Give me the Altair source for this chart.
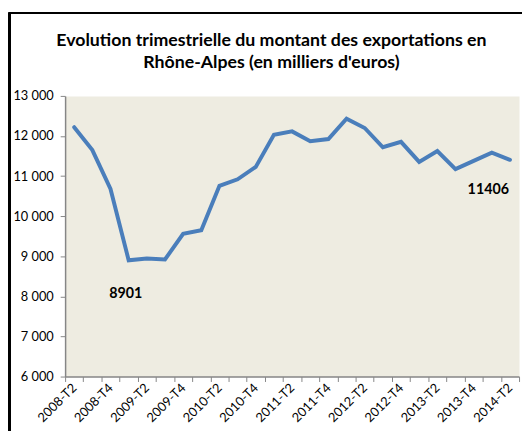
import altair as alt
import pandas as pd

quarters = [
    "2008-T2", "2008-T3", "2008-T4",
    "2009-T1", "2009-T2", "2009-T3", "2009-T4",
    "2010-T1", "2010-T2", "2010-T3", "2010-T4",
    "2011-T1", "2011-T2", "2011-T3", "2011-T4",
    "2012-T1", "2012-T2", "2012-T3", "2012-T4",
    "2013-T1", "2013-T2", "2013-T3", "2013-T4",
    "2014-T1", "2014-T2",
]
values = [12220, 11650, 10680, 8901, 8945, 8920, 9560, 9650, 10757, 10920, 11230,
          12030, 12115, 11870, 11925, 12430, 12200, 11720, 11855, 11355, 11625,
          11175, 11380, 11585, 11406]
y_ticks = [6000, 7000, 8000, 9000, 10000, 11000, 12000, 13000]
annot_quarters = ["2009-T1", "2014-T2"]
annot_values = [8901, 11406]

df = pd.DataFrame({"q": quarters, "v": values})
ann = pd.DataFrame({"q": annot_quarters, "v": annot_values,
                    "t": [str(v) for v in annot_values]})

FONT = "Lato"

x_enc = alt.X("q:N", sort=quarters, bandPosition=0.5,
              scale=alt.Scale(type="band", domain=quarters, paddingInner=0, paddingOuter=0),
              axis=alt.Axis(title=None, tickBand="extent", labelAngle=-45, labelAlign="right",
                            labelBaseline="middle", labelOverlap=False, labelPadding=4,
                            labelExpr="indexof(datum.label, 'T2') >= 0 || indexof(datum.label, 'T4') >= 0 ? datum.label : ''",
                            labelFont=FONT, labelFontSize=13, labelColor="#000000",
                            domainColor="#868686", domainWidth=1.5, tickColor="#868686",
                            tickSize=5, grid=False))
y_scale = alt.Scale(domain=[6000, 13000], nice=False, zero=False)
y_enc = alt.Y("v:Q", scale=y_scale,
              axis=alt.Axis(title=None, values=y_ticks, grid=False,
                            labelExpr="replace(format(datum.value, ','), ',', ' ')",
                            labelFont=FONT, labelFontSize=13, labelColor="#000000",
                            domainColor="#868686", domainWidth=1.5, tickColor="#868686",
                            tickSize=5, labelPadding=7))

line = alt.Chart(df).mark_line(color="#4A7EBB", strokeWidth=4, strokeCap="round").encode(
    x=x_enc, y=y_enc)

ann_x = alt.X("q:N", sort=quarters, bandPosition=0.5)
label_min = alt.Chart(ann).transform_filter(alt.datum.q == annot_quarters[0]).mark_text(
    font=FONT, fontSize=14.5, fontWeight="bold", color="#000000", dy=34, dx=-3).encode(
    x=ann_x, y=alt.Y("v:Q"), text="t:N")
label_last = alt.Chart(ann).transform_filter(alt.datum.q == annot_quarters[1]).mark_text(
    font=FONT, fontSize=14.5, fontWeight="bold", color="#000000", dy=31, dx=-22).encode(
    x=ann_x, y=alt.Y("v:Q"), text="t:N")

frame_left = alt.Chart(df).mark_rule(color="#000000", strokeWidth=1.5).encode(
    x=alt.value(-56.5), y=alt.value(-84.5), y2=alt.value(340))
frame_top = alt.Chart(df).mark_rule(color="#000000", strokeWidth=1.5).encode(
    x=alt.value(-56.5), x2=alt.value(470), y=alt.value(-84.5))

chart = alt.layer(line, label_min, label_last, frame_left, frame_top).properties(
    width=461, height=285,
    autosize=alt.AutoSizeParams(type="none"),
    padding={"left": 58, "top": 86, "right": 3, "bottom": 52},
    title=alt.Title(["Evolution trimestrielle du montant des exportations en",
                     "Rhône-Alpes (en milliers d'euros)"],
                    font=FONT, fontSize=18, fontWeight="bold", color="#000000",
                    anchor="middle", dx=-21, dy=61, lineHeight=22, offset=0),
).configure(background="#FFFFFF").configure_view(fill="#EEECE1", stroke="transparent")

chart.save("out.html", embed_options={"renderer": "svg", "actions": False})
